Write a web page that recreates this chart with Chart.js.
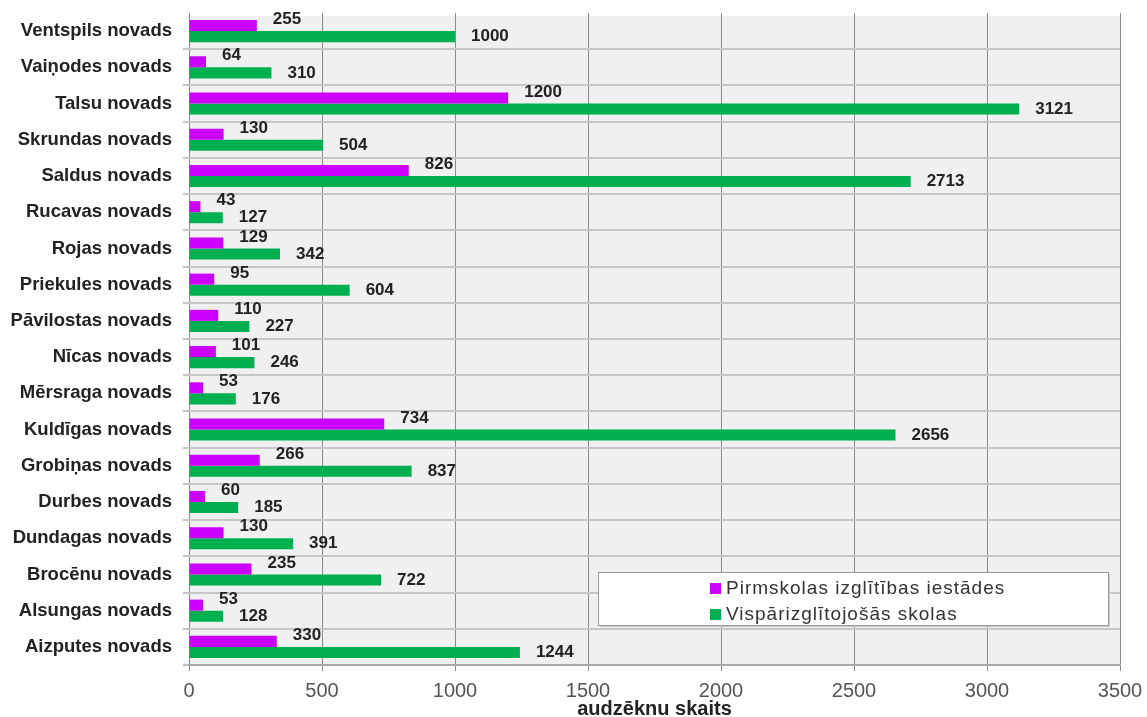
<!DOCTYPE html>
<html>
<head>
<meta charset="utf-8">
<script src="https://cdn.jsdelivr.net/npm/chart.js@4.4.1/dist/chart.umd.min.js"></script>
<style>
  html, body { margin: 0; padding: 0; background: #ffffff; }
  #wrap { width: 1147px; height: 717px; position: relative; }
</style>
</head>
<body>
<div id="wrap"><canvas id="chart"></canvas></div>
<script>
const regions = [
    'Ventspils novads', 'Vaiņodes novads', 'Talsu novads', 'Skrundas novads',
    'Saldus novads', 'Rucavas novads', 'Rojas novads', 'Priekules novads',
    'Pāvilostas novads', 'Nīcas novads', 'Mērsraga novads', 'Kuldīgas novads',
    'Grobiņas novads', 'Durbes novads', 'Dundagas novads', 'Brocēnu novads',
    'Alsungas novads', 'Aizputes novads'
];
const preschool = [255, 64, 1200, 130, 826, 43, 129, 95, 110, 101, 53, 734, 266, 60, 130, 235, 53, 330];
const general = [1000, 310, 3121, 504, 2713, 127, 342, 604, 227, 246, 176, 2656, 837, 185, 391, 722, 128, 1244];
const seriesNames = ['Pirmskolas izglītības iestādes', 'Vispārizglītojošās skolas'];
const xTicks = [0, 500, 1000, 1500, 2000, 2500, 3000, 3500];

const purple = '#cc00ff';
const green = '#00b050';
const textColor = '#222222';
const fontFamily = '"Liberation Sans", Arial, sans-serif';

// grey plot background (top row is clipped a little in the original)
const backdrop = {
    id: 'backdrop',
    beforeDraw(chart) {
        const { ctx, chartArea } = chart;
        ctx.save();
        ctx.fillStyle = '#f0f0f0';
        ctx.fillRect(chartArea.left, chartArea.top + 3, chartArea.right - chartArea.left, chartArea.bottom - chartArea.top - 3);
        ctx.restore();
    }
};

// value labels next to bar ends
const valueLabels = {
    id: 'valueLabels',
    afterDatasetsDraw(chart) {
        const ctx = chart.ctx;
        ctx.save();
        ctx.font = 'bold 17px ' + fontFamily;
        ctx.fillStyle = textColor;
        ctx.textAlign = 'left';
        ctx.textBaseline = 'middle';
        chart.data.datasets.forEach((ds, i) => {
            chart.getDatasetMeta(i).data.forEach((bar, j) => {
                const dy = i === 0 ? -6 : 0;
                ctx.fillText(String(ds.data[j]), bar.x + 16, bar.y + dy);
            });
        });
        ctx.restore();
    }
};

// legend box inside the plot
const boxLegend = {
    id: 'boxLegend',
    afterDraw(chart) {
        const ctx = chart.ctx;
        const x = 598, y = 572, w = 510, h = 53;
        ctx.save();
        ctx.fillStyle = '#c8c8c8';
        ctx.fillRect(x + 2, y + 2, w, h);
        ctx.fillStyle = '#ffffff';
        ctx.fillRect(x, y, w, h);
        ctx.strokeStyle = '#999999';
        ctx.lineWidth = 1;
        ctx.strokeRect(x + 0.5, y + 0.5, w, h);
        ctx.font = '19px ' + fontFamily;
        ctx.letterSpacing = '1px';
        ctx.textBaseline = 'middle';
        ctx.textAlign = 'left';
        const colors = [purple, green];
        seriesNames.forEach((name, i) => {
            const cy = y + 16 + i * 26;
            ctx.fillStyle = colors[i];
            ctx.fillRect(710, cy - 5, 11, 11);
            ctx.fillStyle = '#333333';
            ctx.fillText(name, 726, cy + 1);
        });
        ctx.restore();
    }
};

new Chart(document.getElementById('chart'), {
    type: 'bar',
    data: {
        labels: regions,
        datasets: [
            { label: seriesNames[0], data: preschool, backgroundColor: purple },
            { label: seriesNames[1], data: general, backgroundColor: green }
        ]
    },
    options: {
        indexAxis: 'y',
        responsive: true,
        maintainAspectRatio: false,
        animation: false,
        datasets: { bar: { categoryPercentage: 0.61, barPercentage: 1.0 } },
        layout: { padding: { top: 13, right: 27, left: 0, bottom: 0 } },
        plugins: {
            legend: { display: false },
            tooltip: { enabled: false }
        },
        scales: {
            x: {
                min: 0,
                max: 3500,
                afterFit: s => { s.height = 52; s.paddingLeft = 0; s.paddingRight = 0; },
                afterBuildTicks: s => { s.ticks = xTicks.map(v => ({ value: v })); },
                grid: { color: '#8a8a8a', lineWidth: 1, tickLength: 6 },
                border: { color: '#a8a8a8', width: 2 },
                ticks: {
                    color: '#555555',
                    padding: 8,
                    maxRotation: 0,
                    callback: v => String(v),
                    font: { family: fontFamily, size: 20 }
                },
                title: {
                    display: true,
                    text: 'audzēknu skaits',
                    color: textColor,
                    padding: { top: 0, bottom: -4 },
                    font: { family: fontFamily, size: 20, weight: 'bold' }
                }
            },
            y: {
                afterFit: s => { s.width = 189; s.paddingTop = 0; s.paddingBottom = 0; },
                grid: {
                    color: c => (c.index === 0 ? 'rgba(0,0,0,0)' : '#c6c6c6'),
                    lineWidth: 2,
                    tickLength: 6,
                    offset: true
                },
                border: { display: false },
                ticks: {
                    color: textColor,
                    padding: 11,
                    font: { family: fontFamily, size: 18.5, weight: 'bold' }
                }
            }
        }
    },
    plugins: [backdrop, valueLabels, boxLegend]
});
</script>
</body>
</html>
